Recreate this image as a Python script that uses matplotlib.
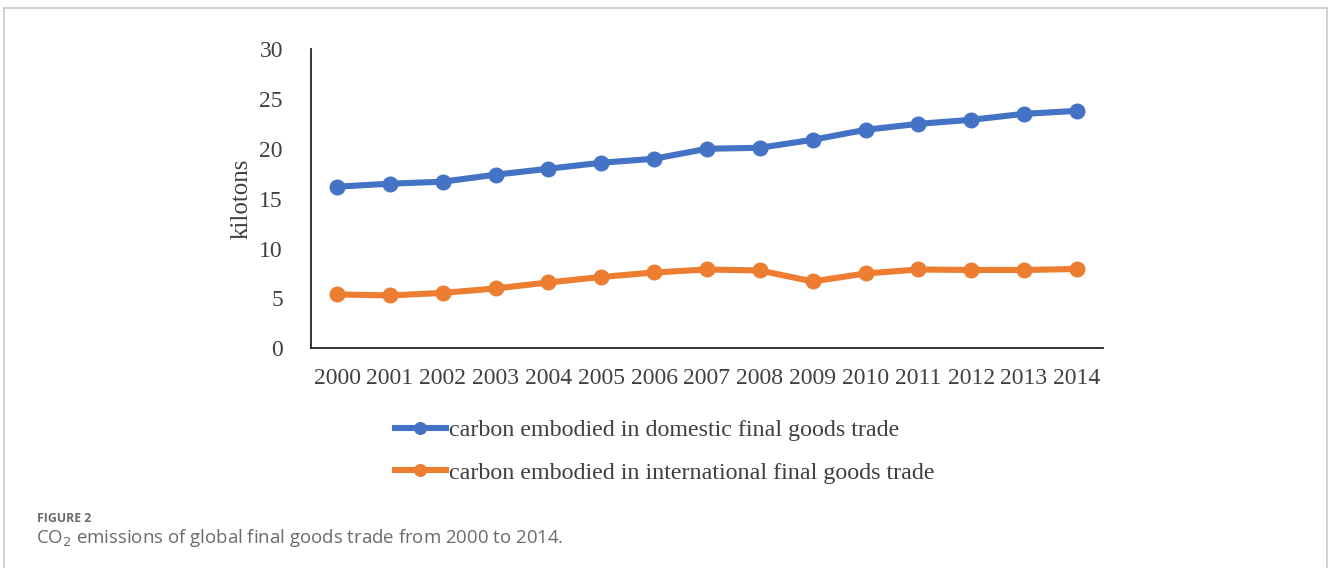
import matplotlib
matplotlib.use("Agg")
import matplotlib.pyplot as plt
from matplotlib.lines import Line2D

years = [str(y) for y in range(2000, 2015)]
domestic = [16.2, 16.5, 16.7, 17.4, 18.0, 18.6, 19.0, 20.0, 20.1, 20.9, 21.9, 22.5, 22.9, 23.5, 23.8]
international = [5.4, 5.3, 5.55, 6.0, 6.6, 7.15, 7.6, 7.9, 7.8, 6.7, 7.5, 7.9, 7.85, 7.85, 7.95]
series_labels = [
    "carbon embodied in domestic final goods trade",
    "carbon embodied in international final goods trade",
]
y_ticks = [0, 5, 10, 15, 20, 25, 30]

BLUE = "#4472C4"
ORANGE = "#ED7D31"
TEXT = "#404040"

plt.rcParams["font.family"] = ["Liberation Serif", "DejaVu Serif"]

W, H = 1328, 568
fig = plt.figure(figsize=(W / 100, H / 100), dpi=100)
ax = fig.add_axes([310.7 / W, 1 - 348.3 / H, (1103.3 - 310.7) / W, (348.3 - 49) / H])

x = list(range(len(years)))
h1, = ax.plot(x, domestic, color=BLUE, lw=4.4, marker="o", ms=10.5, label=series_labels[0])
h2, = ax.plot(x, international, color=ORANGE, lw=4.4, marker="o", ms=10.5, label=series_labels[1])

ax.set_xlim(-0.5, len(years) - 0.5)
ax.set_ylim(0, 30)
ax.set_yticks(y_ticks)
ax.set_xticks(x)
ax.set_xticklabels(years)
ax.tick_params(axis="both", length=0, labelsize=17, colors=TEXT)
ax.tick_params(axis="y", pad=20)
ax.tick_params(axis="x", pad=14)
for side in ("top", "right"):
    ax.spines[side].set_visible(False)
for side in ("left", "bottom"):
    ax.spines[side].set_color("#262626")
    ax.spines[side].set_linewidth(1.3)
ax.set_ylabel("kilotons", fontsize=18, color=TEXT, labelpad=5)

fig.legend(
    handles=[h1, h2],
    labels=series_labels,
    loc="upper left",
    bbox_to_anchor=(373 / W, 1 - 398 / H),
    frameon=False,
    fontsize=17.3,
    handlelength=2.15,
    handletextpad=0.12,
    labelspacing=0.85,
    markerscale=0.8,
    labelcolor=TEXT,
)

# figure frame (open at the bottom)
frame = dict(color="#c8c8c8", lw=1.2, transform=fig.transFigure)
fig.add_artist(Line2D([4 / W, 4 / W], [0, 1 - 8 / H], **frame))
fig.add_artist(Line2D([4 / W, 1326.5 / W], [1 - 8 / H, 1 - 8 / H], **frame))
fig.add_artist(Line2D([1326.5 / W, 1326.5 / W], [0, 1 - 8 / H], **frame))

fig.text(37 / W, 1 - 518 / H, "FIGURE 2", fontsize=8.8, fontweight="bold",
         family=["Open Sans", "DejaVu Sans"], color="#6b6b6b", va="center")
fig.text(36 / W, 1 - 538 / H, "CO$_2$ emissions of global final goods trade from 2000 to 2014.",
         fontsize=13.4, family=["Open Sans", "DejaVu Sans"], color="#6b6b6b", va="center")

fig.savefig("out.png", dpi=100)
